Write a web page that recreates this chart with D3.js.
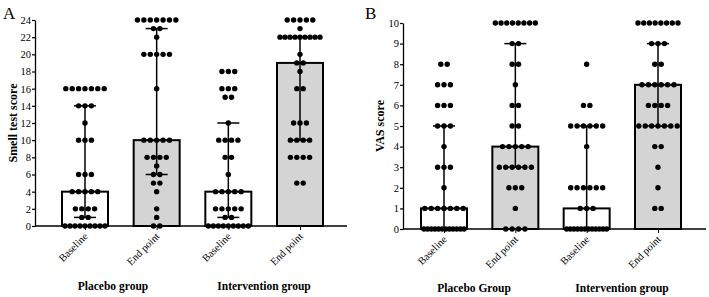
<!DOCTYPE html>
<html>
<head>
<meta charset="utf-8">
<script src="https://cdn.jsdelivr.net/npm/d3@7"></script>
<style>
  body { margin: 0; background: #fff; }
  text { font-family: "Liberation Serif", "Times New Roman", serif; }
</style>
</head>
<body>
<div id="chart-area"></div>
<script>
// Bar categories (same four bars in both panels)
let categories = ["Baseline", "End point", "Baseline", "End point"];
let groupsA = ["Placebo group", "Intervention group"];
let groupsB = ["Placebo Group", "Intervention group"];

// Panel A: smell test score - medians and whisker ends
let smellMedian = [4, 10, 4, 19];
let smellLow = [1, 6, 1, 10];
let smellHigh = [14, 23, 12, 22];
let smellTicks = [0, 2, 4, 6, 8, 10, 12, 14, 16, 18, 20, 22, 24];

// individual points as [value, count]
let smellPlaceboBase = [[16,7],[14,3],[12,1],[10,3],[6,3],[4,5],[2,4],[1,2],[0,9]];
let smellPlaceboEnd = [[24,7],[23,2],[22,1],[20,5],[16,1],[10,5],[8,4],[7,1],[6,2],[5,2],[4,1],[2,1],[1,1],[0,2]];
let smellInterBase = [[18,3],[16,3],[15,2],[12,1],[10,4],[8,2],[6,1],[4,5],[2,5],[1,2],[0,9]];
let smellInterEnd = [[24,5],[23,1],[22,9],[20,1],[19,2],[18,1],[16,2],[12,3],[10,4],[8,4],[5,2]];

// Panel B: VAS score
let vasMedian = [1, 4, 1, 7];
let vasLow = [0, 3, 0, 5];
let vasHigh = [5, 9, 5, 9];
let vasTicks = [0, 1, 2, 3, 4, 5, 6, 7, 8, 9, 10];

let vasPlaceboBase = [[8,2],[7,3],[6,3],[5,3],[4,1],[3,3],[2,1],[1,7],[0,12]];
let vasPlaceboEnd = [[10,8],[9,2],[8,2],[7,1],[6,2],[5,2],[4,5],[3,6],[2,3],[1,1],[0,4]];
let vasInterBase = [[8,1],[6,2],[5,6],[4,1],[2,6],[1,3],[0,12]];
let vasInterEnd = [[10,8],[9,3],[8,2],[7,6],[6,4],[5,7],[4,2],[3,1],[2,1],[1,2]];

let fills = ["#ffffff", "#d4d4d4", "#ffffff", "#d4d4d4"];

let svg = d3.select("#chart-area").append("svg")
    .attr("width", 709)
    .attr("height", 297);

drawPanel({
    letter: "A", letterX: 3,
    title: "Smell test score", titleX: 17,
    axisLeft: 35, axisRight: 347, centers: [85, 300],
    yRange: [226, 20], yMax: 24, ticks: smellTicks,
    median: smellMedian, low: smellLow, high: smellHigh,
    points: [smellPlaceboBase, smellPlaceboEnd, smellInterBase, smellInterEnd],
    groups: groupsA, groupX: [113, 264], groupY: 290
});

drawPanel({
    letter: "B", letterX: 365,
    title: "VAS score", titleX: 384,
    axisLeft: 403, axisRight: 706, centers: [444, 658],
    yRange: [229, 23], yMax: 10, ticks: vasTicks,
    median: vasMedian, low: vasLow, high: vasHigh,
    points: [vasPlaceboBase, vasPlaceboEnd, vasInterBase, vasInterEnd],
    groups: groupsB, groupX: [474, 622], groupY: 292
});

function drawPanel(p) {
    let keys = categories.map((c, i) => i);

    let x = d3.scalePoint()
        .domain(keys)
        .range(p.centers);

    let y = d3.scaleLinear()
        .domain([0, p.yMax])
        .range(p.yRange);

    let g = svg.append("g");
    let barW = 46;

    // Bars
    g.selectAll(".bar")
        .data(keys)
      .enter().append("rect")
        .attr("class", "bar")
        .attr("x", d => x(d) - barW / 2)
        .attr("y", d => y(p.median[d]))
        .attr("width", barW)
        .attr("height", d => y(0) - y(p.median[d]))
        .attr("fill", d => fills[d])
        .attr("stroke", "#000")
        .attr("stroke-width", 2);

    // Whiskers
    g.selectAll(".whisker")
        .data(keys)
      .enter().append("line")
        .attr("x1", d => x(d)).attr("x2", d => x(d))
        .attr("y1", d => y(p.low[d])).attr("y2", d => y(p.high[d]))
        .attr("stroke", "#000").attr("stroke-width", 1.5);

    let caps = [];
    keys.forEach(d => {
        caps.push({k: d, v: p.high[d]});
        caps.push({k: d, v: p.low[d]});
    });
    g.selectAll(".cap")
        .data(caps)
      .enter().append("line")
        .attr("x1", d => x(d.k) - 11).attr("x2", d => x(d.k) + 11)
        .attr("y1", d => y(d.v)).attr("y2", d => y(d.v))
        .attr("stroke", "#000").attr("stroke-width", 1.5);

    // Scatter points, spread symmetrically in rows
    let dots = [];
    p.points.forEach((rows, k) => {
        rows.forEach(([v, n]) => {
            let gap = n > 1 ? Math.min(6.4, 40 / (n - 1)) : 0;
            for (let i = 0; i < n; i++) {
                dots.push({k: k, v: v, off: (i - (n - 1) / 2) * gap});
            }
        });
    });
    g.selectAll(".dot")
        .data(dots)
      .enter().append("circle")
        .attr("cx", d => x(d.k) + d.off)
        .attr("cy", d => y(d.v))
        .attr("r", 2.7)
        .attr("fill", "#000");

    // Y axis
    let yAxis = g.append("g")
        .attr("transform", `translate(${p.axisLeft},0)`)
        .call(d3.axisLeft(y).tickValues(p.ticks).tickSize(3).tickPadding(1).tickSizeOuter(0));
    yAxis.select(".domain").attr("stroke-width", 1.3);
    yAxis.selectAll(".tick line").attr("stroke-width", 1.2);
    yAxis.selectAll("text")
        .attr("font-family", "Liberation Serif, serif")
        .attr("font-size", 10.5)
        .attr("fill", "#000");

    // X axis
    let xAxis = g.append("g")
        .attr("transform", `translate(0,${y(0)})`)
        .call(d3.axisBottom(x).tickSize(4).tickSizeOuter(0).tickFormat(d => categories[d]));
    xAxis.select(".domain")
        .attr("d", `M${p.axisLeft},0H${p.axisRight}`)
        .attr("stroke-width", 1.3);
    xAxis.selectAll("text")
        .attr("font-family", "Liberation Serif, serif")
        .attr("font-size", 10.5)
        .attr("fill", "#000")
        .attr("text-anchor", "end")
        .attr("dy", 0)
        .attr("transform", "translate(3,11) rotate(-45)")
        .attr("y", 0);

    // Group labels
    g.selectAll(".group")
        .data(p.groups)
      .enter().append("text")
        .attr("x", (d, i) => p.groupX[i])
        .attr("y", p.groupY)
        .attr("text-anchor", "middle")
        .attr("font-weight", "bold")
        .attr("font-size", 11.5)
        .text(d => d);

    // Axis title
    g.append("text")
        .attr("transform", `translate(${p.titleX},${(p.yRange[0] + p.yRange[1]) / 2}) rotate(-90)`)
        .attr("text-anchor", "middle")
        .attr("font-weight", "bold")
        .attr("font-size", 12)
        .text(p.title);

    // Panel letter
    g.append("text")
        .attr("x", p.letterX)
        .attr("y", 19)
        .attr("font-size", 17)
        .text(p.letter);
}
</script>
</body>
</html>
